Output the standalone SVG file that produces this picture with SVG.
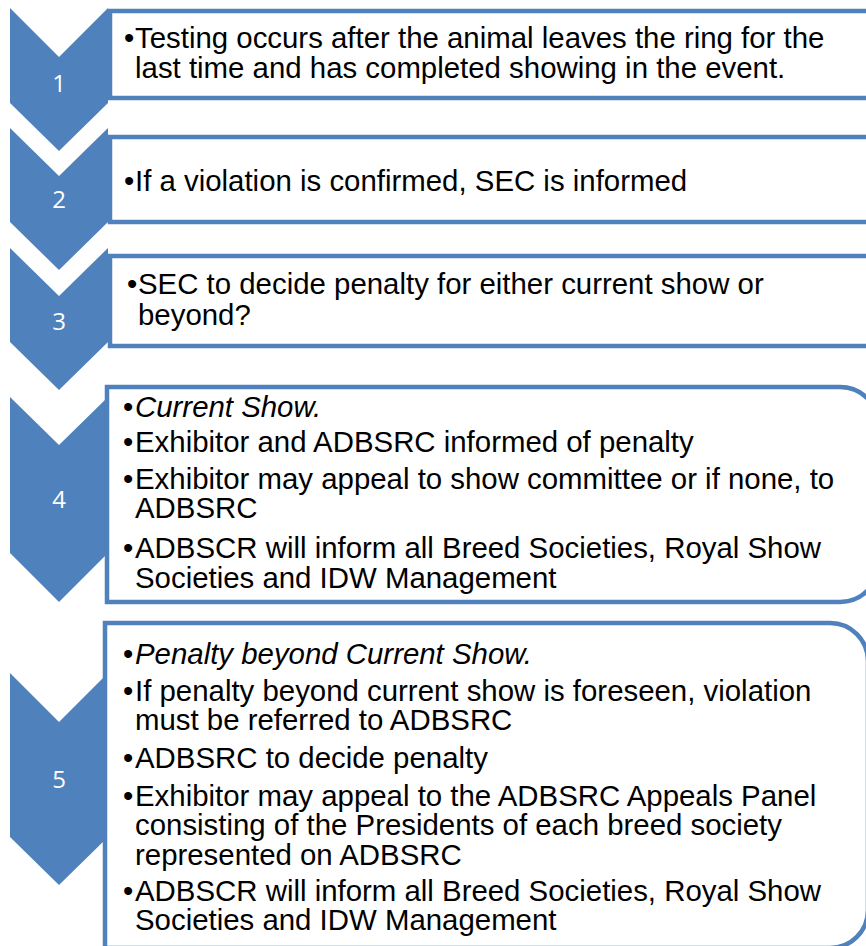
<svg xmlns="http://www.w3.org/2000/svg" width="866" height="946" viewBox="0 0 866 946">
<style>
.chev{fill:#4F81BD;}
.box{fill:#FFFFFF;stroke:#4F81BD;stroke-width:4.5;}
.t{font-family:"Liberation Sans",Arial,sans-serif;font-size:29.4px;fill:#000000;}
.i{font-style:italic;}
.num{font-family:"Open Sans","Liberation Sans",sans-serif;font-size:24px;fill:#FFFFFF;text-anchor:middle;}
</style>
<rect x="0" y="0" width="866" height="946" fill="#FFFFFF"/>
<g id="step1">
<path class="chev" d="M10,8 L59,57 L108,8 L108,103 L59,151 L10,103 Z"/>
<rect class="box" x="110" y="11" width="800" height="87"/>
<text class="num" x="59" y="92">1</text>
<text class="t" x="124" y="48">•</text><text class="t" x="135" y="48">Testing occurs after the animal leaves the ring for the</text>
<text class="t" x="135" y="78">last time and has completed showing in the event.</text>
</g>
<g id="step2">
<path class="chev" d="M10,128 L59,176 L108,128 L108,222 L59,270 L10,222 Z"/>
<rect class="box" x="110" y="137" width="800" height="85"/>
<text class="num" x="59" y="208">2</text>
<text class="t" x="124" y="191">•</text><text class="t" x="135" y="191">If a violation is confirmed, SEC is informed</text>
</g>
<g id="step3">
<path class="chev" d="M10,248 L59,296 L108,248 L108,342 L59,390 L10,342 Z"/>
<rect class="box" x="110" y="256" width="800" height="90"/>
<text class="num" x="59" y="330">3</text>
<text class="t" x="127" y="294">•</text><text class="t" x="138" y="294">SEC to decide penalty for either current show or</text>
<text class="t" x="138" y="325">beyond?</text>
</g>
<g id="step4">
<path class="chev" d="M10,397 L59,445 L108,397 L108,553 L59,602 L10,553 Z"/>
<path class="box" d="M107,387 L840,387 A39,39 0 0 1 879,426 L879,563 A39,39 0 0 1 840,602 L107,602 Z"/>
<text class="num" x="59" y="508">4</text>
<text class="t" x="123" y="417">•</text><text class="t i" x="135" y="417">Current Show.</text>
<text class="t" x="123" y="452">•</text><text class="t" x="135" y="452">Exhibitor and ADBSRC informed of penalty</text>
<text class="t" x="123" y="489">•</text><text class="t" x="135" y="489">Exhibitor may appeal to show committee or if none, to</text>
<text class="t" x="135" y="518">ADBSRC</text>
<text class="t" x="123" y="558">•</text><text class="t" x="135" y="558">ADBSCR will inform all Breed Societies, Royal Show</text>
<text class="t" x="135" y="588">Societies and IDW Management</text>
</g>
<g id="step5">
<path class="chev" d="M10,673 L59,722 L108,673 L108,837 L59,885 L10,837 Z"/>
<path class="box" d="M105,623 L830,623 A38,38 0 0 1 868,661 L868,910 A38,38 0 0 1 830,948 L105,948 Z"/>
<text class="num" x="59" y="788">5</text>
<text class="t" x="123" y="664">•</text><text class="t i" x="135" y="664">Penalty beyond Current Show.</text>
<text class="t" x="123" y="701">•</text><text class="t" x="135" y="701">If penalty beyond current show is foreseen, violation</text>
<text class="t" x="135" y="730">must be referred to ADBSRC</text>
<text class="t" x="123" y="768">•</text><text class="t" x="135" y="768">ADBSRC to decide penalty</text>
<text class="t" x="123" y="806">•</text><text class="t" x="135" y="806">Exhibitor may appeal to the ADBSRC Appeals Panel</text>
<text class="t" x="135" y="835">consisting of the Presidents of each breed society</text>
<text class="t" x="135" y="865">represented on ADBSRC</text>
<text class="t" x="123" y="901">•</text><text class="t" x="135" y="901">ADBSCR will inform all Breed Societies, Royal Show</text>
<text class="t" x="135" y="930">Societies and IDW Management</text>
</g>
</svg>
